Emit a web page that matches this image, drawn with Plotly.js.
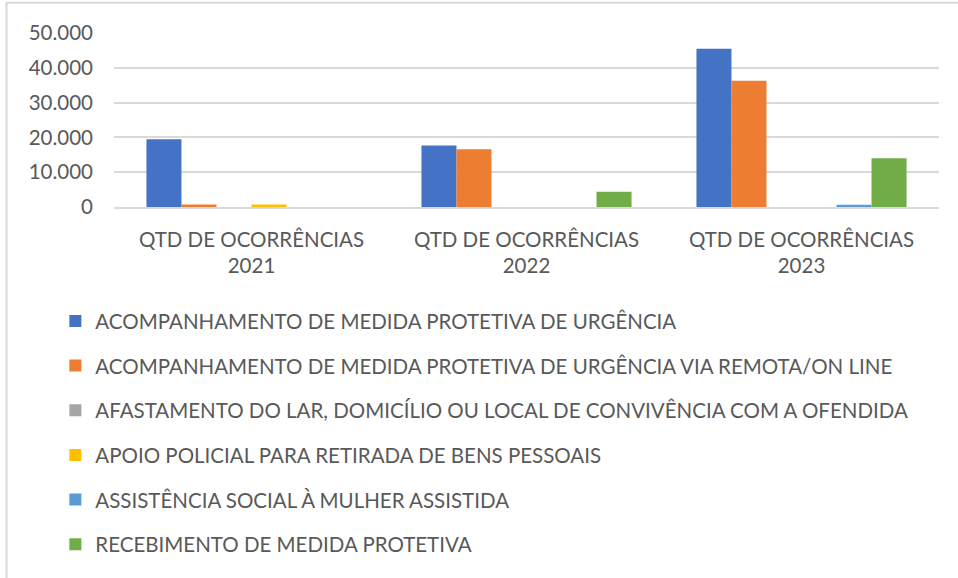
<!DOCTYPE html>
<html>
<head>
<meta charset="utf-8">
<script src="https://cdn.plot.ly/plotly-3.0.1.min.js"></script>
<style>html,body{margin:0;padding:0;background:#fff;}#chart{width:958px;height:578px;}</style>
</head>
<body>
<div id="chart"></div>
<script>
const categories = ["QTD DE OCORRÊNCIAS<br>2021", "QTD DE OCORRÊNCIAS<br>2022", "QTD DE OCORRÊNCIAS<br>2023"];
const seriesNames = [
  "ACOMPANHAMENTO DE MEDIDA PROTETIVA DE URGÊNCIA",
  "ACOMPANHAMENTO DE MEDIDA PROTETIVA DE URGÊNCIA VIA REMOTA/ON LINE",
  "AFASTAMENTO DO LAR, DOMICÍLIO OU LOCAL DE CONVIVÊNCIA COM A OFENDIDA",
  "APOIO POLICIAL PARA RETIRADA DE BENS PESSOAIS",
  "ASSISTÊNCIA SOCIAL À MULHER ASSISTIDA",
  "RECEBIMENTO DE MEDIDA PROTETIVA"
];
const acompanhamento = [19500, 17700, 45500];
const acompanhamentoRemota = [750, 16600, 36300];
const afastamento = [0, 0, 0];
const apoioPolicial = [700, 0, 0];
const assistenciaSocial = [0, 0, 650];
const recebimento = [0, 4350, 14000];
const colors = ["#4472C4", "#ED7D31", "#A5A5A5", "#FFC000", "#5B9BD5", "#70AD47"];
const yTicks = [0, 10000, 20000, 30000, 40000, 50000];

const seriesValues = [acompanhamento, acompanhamentoRemota, afastamento, apoioPolicial, assistenciaSocial, recebimento];
const FONT = "Lato, 'Open Sans', sans-serif";
const FS = 20.5;

const traces = seriesValues.map((vals, i) => ({
  type: "bar",
  name: seriesNames[i],
  x: categories,
  y: vals,
  marker: {color: colors[i], line: {width: 0}},
  legendgroup: "g" + i,
  hoverinfo: "y+name"
}));

const layout = {
  width: 958, height: 578,
  margin: {l: 114, r: 19, t: 33, b: 371, pad: 0, autoexpand: false},
  paper_bgcolor: "#ffffff",
  plot_bgcolor: "#ffffff",
  separators: ",.",
  barmode: "group",
  bargap: 0.236,
  bargroupgap: 0,
  font: {family: FONT, size: FS, color: "#595959"},
  xaxis: {
    showgrid: false, showline: true, linecolor: "#D9D9D9", linewidth: 2,
    ticks: "", tickfont: {family: FONT, size: FS, color: "#595959"},
    ticklabelstandoff: 13,
    automargin: false
  },
  yaxis: {
    range: [0, 50000], tickvals: yTicks, tickformat: ",d",
    showgrid: true, gridcolor: "#D9D9D9", gridwidth: 2,
    zeroline: false, showline: false, ticks: "",
    tickfont: {family: FONT, size: FS, color: "#595959"},
    ticklabelstandoff: 20,
    automargin: false
  },
  showlegend: true,
  legend: {
    orientation: "v",
    xref: "container", x: 0.0578, xanchor: "left",
    yref: "container", y: 0.479, yanchor: "top",
    traceorder: "grouped", tracegroupgap: 15,
    font: {family: FONT, size: FS, color: "#595959"},
    bgcolor: "rgba(0,0,0,0)"
  },
  shapes: [{
    type: "rect", xref: "paper", yref: "paper",
    x0: -0.1303, x1: 1.1, y0: -3.5, y1: 1.174,
    line: {color: "#D9D9D9", width: 2}, fillcolor: "rgba(0,0,0,0)", layer: "below"
  }]
};

Plotly.newPlot("chart", traces, layout, {displayModeBar: false, staticPlot: true});
</script>
</body>
</html>
